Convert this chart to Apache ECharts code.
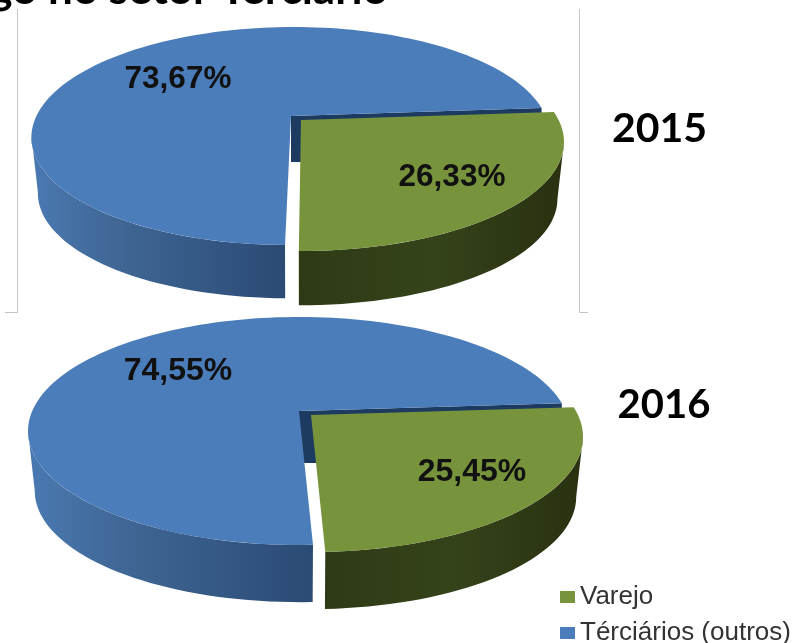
<!DOCTYPE html>
<html>
<head>
<meta charset="utf-8">
<style>html,body{margin:0;padding:0;background:#fff}#main{width:796px;height:643px}</style>
<script src="https://cdn.jsdelivr.net/npm/echarts@6/dist/echarts.min.js"></script>
</head>
<body>
<div id="main"></div>
<script>
var years = ['2015', '2016'];
var categories = ['Varejo', 'Térciários (outros)'];
var varejo = [26.33, 25.45];
var terciarios = [73.67, 74.55];

// where each pie sits on the page, the two slices are pulled apart
var pieLayout = [
  { rot: 85.6, font: 31.5,
    blue: { cx: 291, cy: 136, rx: 259, ry: 109, up: 20, depth: 56, lean: -0.03, lx: 178, ly: 79 },
    green: { cx: 301, cy: 142, rx: 263, ry: 109, up: 22, depth: 57, lean: 0, lx: 452, ly: 177 } },
  { rot: 85.9, font: 32,
    blue: { cx: 299, cy: 431, rx: 271, ry: 114, up: 20, depth: 60, lean: 0, lx: 178, ly: 371 },
    green: { cx: 311, cy: 437, rx: 272, ry: 115, up: 22, depth: 60, lean: 0, lx: 472, ly: 472 } }
];
var bottomScale = 0.975; // lower rim looks a bit smaller than the top

// angle on the pie (deg clockwise from top) to page position, slight perspective
function project(p, deg) {
  var a = deg * Math.PI / 180;
  var u = Math.sin(a), v = Math.cos(a);
  var c = p.up / p.ry;
  var w = 1 + c * v;
  var y = p.cy - p.ry * (v + c) / w;
  var x = p.cx + p.rx * u * Math.sqrt(1 - c * c) / w + p.lean * (y - (p.cy - p.up));
  return [x, y];
}
function arc(p, from, to) {
  var pts = [];
  var n = Math.ceil(Math.abs(to - from) / 2);
  for (var i = 0; i <= n; i++) pts.push(project(p, from + (to - from) * i / n));
  return pts;
}
function lower(p, pts) {
  return pts.map(function (q) {
    return [p.cx + (q[0] - p.cx) * bottomScale, p.cy + p.depth + (q[1] - p.cy) * bottomScale];
  });
}
// angle where the rim reaches its widest point on the page
function sideAngle(p) {
  return Math.acos(-p.up / p.ry) * 180 / Math.PI;
}
function poly(points, fill) {
  return { type: 'polygon', shape: { points: points }, style: { fill: fill } };
}
function label(L, p, val) {
  return {
    type: 'text', x: p.lx, y: p.ly,
    style: {
      text: val.toFixed(2).replace('.', ',') + '%',
      fill: '#111', font: 'bold ' + L.font + 'px "Liberation Sans"', align: 'center', verticalAlign: 'middle'
    }
  };
}
function hGrad(stops) {
  return new echarts.graphic.LinearGradient(0, 0, 1, 0, stops);
}

function renderGreen(params, api) {
  var i = params.dataIndex, L = pieLayout[i], p = L.green;
  var val = api.value(0);
  var from = L.rot, to = L.rot + val * 3.6;
  var rim = arc(p, from, to);
  var apex = [p.cx, p.cy - p.up];
  var front = arc(p, sideAngle(p), to);
  var wall = front.concat(lower(p, front).reverse());
  return {
    type: 'group',
    children: [
      poly(wall, hGrad([
        { offset: 0, color: '#2e3a15' }, { offset: 0.5, color: '#35431a' }, { offset: 1, color: '#293110' }
      ])),
      poly([apex].concat(rim), '#77933c'),
      label(L, p, val)
    ]
  };
}

function renderBlue(params, api) {
  var i = params.dataIndex, L = pieLayout[i], p = L.blue;
  var val = api.value(0);
  var from = L.rot + varejo[i] * 3.6, to = from + val * 3.6;
  var rim = arc(p, from, to);
  var apex = [p.cx, p.cy - p.up];
  // only the front part of the outer wall can be seen
  var front = arc(p, from, 360 - sideAngle(p));
  var wall = front.concat(lower(p, front).reverse());
  var tip = rim[rim.length - 1];
  var cut = [apex, tip, [tip[0], tip[1] + p.depth], [apex[0], apex[1] + p.depth - 10]];
  if (i === 1) cut[3][1] += 2;
  return {
    type: 'group',
    children: [
      poly(wall, hGrad([
        { offset: 0, color: '#4a79b2' }, { offset: 0.35, color: '#3f6694' }, { offset: 1, color: '#2b4a74' }
      ])),
      poly(cut, '#1d3a60'),
      poly([apex].concat(rim), '#4b7dba'),
      label(L, p, val)
    ]
  };
}

function yearText(txt, x, y, size) {
  return { type: 'text', x: x, y: y, style: { text: txt, fill: '#000', font: 'bold ' + size + 'px Lato', align: 'center', verticalAlign: 'middle' } };
}
function frameLine(pts) {
  return { type: 'polyline', shape: { points: pts }, style: { stroke: '#c4c4c4', lineWidth: 1, fill: null } };
}

var myChart = echarts.init(document.getElementById('main'), null, { renderer: 'canvas' });
myChart.setOption({
  animation: false,
  backgroundColor: '#fff',
  legend: {
    data: categories,
    orient: 'vertical',
    left: 560, top: 584,
    width: 236, height: 100,
    padding: 0,
    itemWidth: 15, itemHeight: 12, itemGap: 10,
    icon: 'rect',
    textStyle: { fontFamily: 'Liberation Sans', fontSize: 26, color: '#333' },
    selectedMode: false
  },
  graphic: [
    { type: 'text', x: 388, y: -10, style: { text: 'Emprego no setor Terciário', fill: '#000', font: 'bold 44px Lato', align: 'right', verticalAlign: 'middle' } },
    frameLine([[17.5, 9], [17.5, 312.5], [5, 312.5]]),
    frameLine([[579.5, 9], [579.5, 312.5], [588, 312.5]]),
    yearText(years[0], 659.5, 129, 41),
    yearText(years[1], 664, 405, 40)
  ],
  series: [
    { type: 'custom', name: categories[1], coordinateSystem: 'none', z: 2, itemStyle: { color: '#4b7dba' }, renderItem: renderBlue, data: terciarios },
    { type: 'custom', name: categories[0], coordinateSystem: 'none', z: 3, itemStyle: { color: '#77933c' }, renderItem: renderGreen, data: varejo }
  ]
});
</script>
</body>
</html>
